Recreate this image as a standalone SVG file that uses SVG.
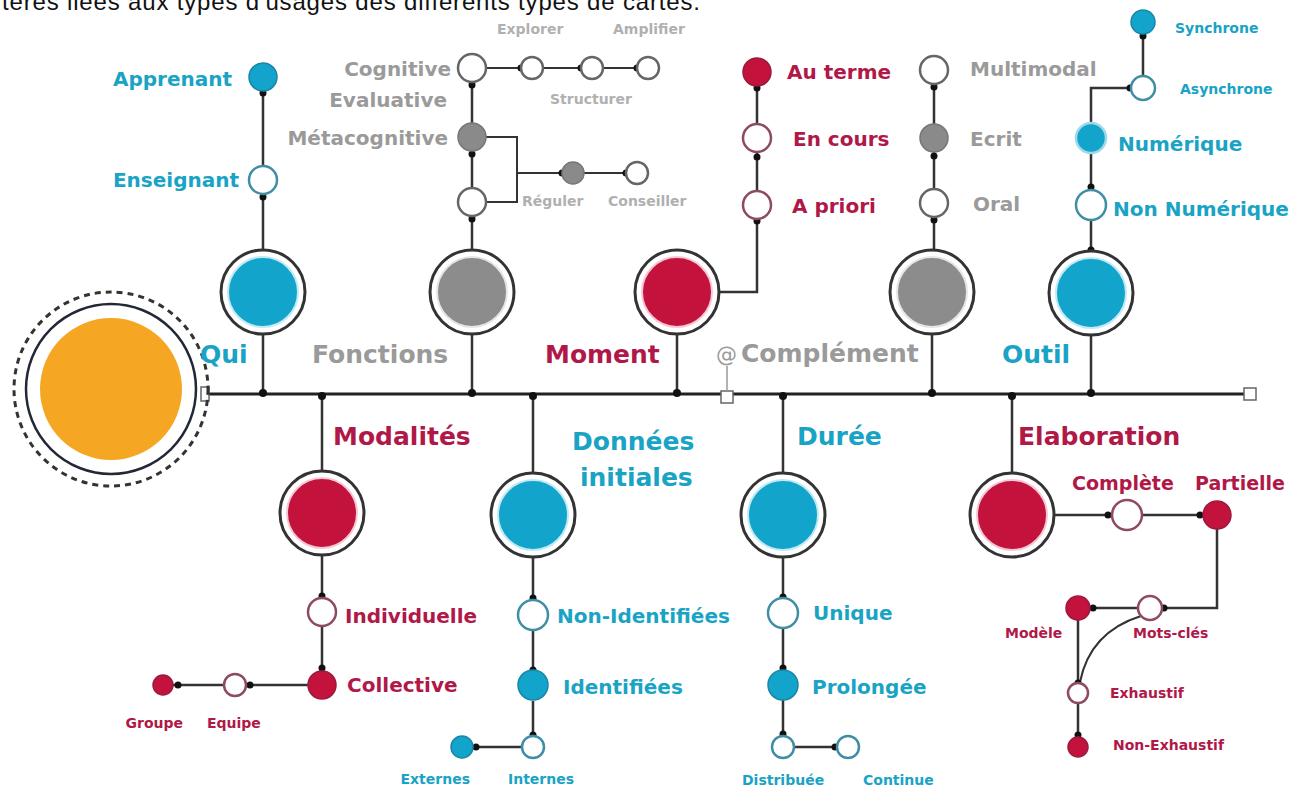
<svg xmlns="http://www.w3.org/2000/svg" width="1299" height="788" viewBox="0 0 1299 788">
  <style>
    .cap { font-family: "Liberation Sans", Arial, sans-serif; font-size: 24px; fill: #111; }
    .t { font-family: "DejaVu Sans", Verdana, sans-serif; font-weight: bold; }
    .h { font-size: 25px; }
    .m { font-size: 20px; }
    .s { font-size: 14px; }
    .cc { fill: #19a3c4; }
    .cr { fill: #b01848; }
    .cg { fill: #9a9a9a; }
    .cgl { fill: #b0b0b0; }
    .ring { fill: #fff; stroke: #333; stroke-width: 3; }
    .inC { fill: #12a4cb; stroke: #bfeaf6; stroke-width: 2; }
    .inR { fill: #c3133d; stroke: #f5c9d4; stroke-width: 2; }
    .inG { fill: #8c8c8c; stroke: #e6e6e6; stroke-width: 2; }
    .nC { fill: #12a4cb; stroke: #1a86a6; stroke-width: 1.5; }
    .nR { fill: #c3133d; stroke: #9b1a3e; stroke-width: 1.5; }
    .nG { fill: #8a8a8a; stroke: #777; stroke-width: 1.5; }
    .wC { fill: #fff; stroke: #3f8ea4; stroke-width: 2.5; }
    .wR { fill: #fff; stroke: #8e4a62; stroke-width: 2.5; }
    .wG { fill: #fff; stroke: #666; stroke-width: 2.5; }
    .ax { stroke: #222; stroke-width: 3; fill: none; }
    .ln { stroke: #333; stroke-width: 2.5; fill: none; }
    .ln2 { stroke: #333; stroke-width: 2; fill: none; }
    .dot { fill: #111; }
    .sq { fill: #fff; stroke: #666; stroke-width: 1.5; }
  </style>

  <!-- caption line, cut at the top edge -->
  <text class="cap" x="2" y="10" textLength="698">tères liées aux types d'usages des différents types de cartes.</text>

  <!-- connectors -->
  <g id="connectors">
    <path class="ax" d="M205,394 H1244"/>
    <rect class="sq" x="1244" y="388" width="12" height="12"/>
    <rect class="sq" x="721" y="391" width="12" height="12"/>
    <rect class="sq" x="201" y="387" width="8" height="14"/>
    <path d="M727,366 V391" stroke="#999" stroke-width="1.5"/>

    <!-- Qui -->
    <path class="ln" d="M263,91 V166 M263,194 V250 M263,334 V394"/>
    <circle class="dot" cx="263" cy="93" r="3.5"/>
    <circle class="dot" cx="263" cy="197" r="3.5"/>
    <circle class="dot" cx="263" cy="393" r="4"/>

    <!-- Fonctions -->
    <path class="ln" d="M472,82 V123 M472,151 V188 M472,216 V250 M472,334 V394"/>
    <circle class="dot" cx="472" cy="85" r="3.5"/>
    <circle class="dot" cx="472" cy="154" r="3.5"/>
    <circle class="dot" cx="472" cy="219" r="3.5"/>
    <circle class="dot" cx="472" cy="393" r="4"/>
    <path class="ln2" d="M486,68 H521 M543,68 H581 M603,68 H637"/>
    <circle class="dot" cx="521" cy="68" r="3.5"/>
    <circle class="dot" cx="581" cy="68" r="3.5"/>
    <circle class="dot" cx="637" cy="68" r="3.5"/>
    <path class="ln2" d="M486,137 H517 V202 H486 M517,173 H562 M584,173 H626"/>
    <circle class="dot" cx="562" cy="173" r="3.5"/>
    <circle class="dot" cx="626" cy="173" r="3.5"/>

    <!-- Moment -->
    <path class="ln" d="M757,86 V124 M757,152 V191 M757,219 V292 H719 M677,334 V394"/>
    <circle class="dot" cx="757" cy="88" r="3.5"/>
    <circle class="dot" cx="757" cy="157" r="3.5"/>
    <circle class="dot" cx="757" cy="221" r="3.5"/>
    <circle class="dot" cx="677" cy="393" r="4"/>

    <!-- Complément -->
    <path class="ln" d="M934,84 V124 M934,152 V189 M934,217 V250 M932,334 V394"/>
    <circle class="dot" cx="934" cy="87" r="3.5"/>
    <circle class="dot" cx="934" cy="156" r="3.5"/>
    <circle class="dot" cx="934" cy="220" r="3.5"/>
    <circle class="dot" cx="932" cy="393" r="4"/>

    <!-- Outil -->
    <path class="ln" d="M1143,34 V76 M1131,88 H1091 V123 M1091,153 V190 M1091,220 V250 M1091,335 V394"/>
    <circle class="dot" cx="1143" cy="36" r="3.5"/>
    <circle class="dot" cx="1130" cy="88" r="3.5"/>
    <circle class="dot" cx="1091" cy="187" r="3.5"/>
    <circle class="dot" cx="1091" cy="250" r="3.5"/>
    <circle class="dot" cx="1091" cy="393" r="4"/>

    <!-- Modalités -->
    <path class="ln" d="M322,394 V471 M322,555 V598 M322,626 V671 M308,685 H246 M224,685 H173"/>
    <circle class="dot" cx="322" cy="396" r="4"/>
    <circle class="dot" cx="322" cy="596" r="3.5"/>
    <circle class="dot" cx="322" cy="668" r="3.5"/>
    <circle class="dot" cx="250" cy="685" r="3.5"/>
    <circle class="dot" cx="178" cy="685" r="3.5"/>

    <!-- Données initiales -->
    <path class="ln" d="M533,394 V473 M533,557 V599 M533,631 V669 M533,701 V736 M522,747 H473"/>
    <circle class="dot" cx="533" cy="396" r="4"/>
    <circle class="dot" cx="533" cy="598" r="3.5"/>
    <circle class="dot" cx="533" cy="670" r="3.5"/>
    <circle class="dot" cx="533" cy="735" r="3.5"/>
    <circle class="dot" cx="476" cy="747" r="3.5"/>

    <!-- Durée -->
    <path class="ln" d="M783,394 V473 M783,557 V598 M783,628 V670 M783,700 V736 M794,747 H837"/>
    <circle class="dot" cx="783" cy="396" r="4"/>
    <circle class="dot" cx="783" cy="597" r="3.5"/>
    <circle class="dot" cx="783" cy="668" r="3.5"/>
    <circle class="dot" cx="783" cy="734" r="3.5"/>
    <circle class="dot" cx="835" cy="747" r="3.5"/>

    <!-- Elaboration -->
    <path class="ln" d="M1012,394 V473 M1054,515 H1112 M1142,515 H1203 M1217,529 V608 H1162 M1138,608 H1090 M1078,620 V683 M1078,703 V737"/>
    <path class="ln2" d="M1141,616 Q1090,632 1080,682"/>
    <circle class="dot" cx="1012" cy="396" r="4"/>
    <circle class="dot" cx="1108" cy="515" r="3.5"/>
    <circle class="dot" cx="1200" cy="515" r="3.5"/>
    <circle class="dot" cx="1164" cy="608" r="3.5"/>
    <circle class="dot" cx="1093" cy="608" r="3.5"/>
    <circle class="dot" cx="1078" cy="683" r="3.5"/>
    <circle class="dot" cx="1078" cy="735" r="3.5"/>
  </g>

  <!-- central node -->
  <g id="centre">
    <circle cx="111" cy="389" r="97" fill="none" stroke="#333" stroke-width="3" stroke-dasharray="6 5"/>
    <circle cx="111" cy="389" r="85" fill="#fff" stroke="#232838" stroke-width="2.5"/>
    <circle cx="111" cy="389" r="71" fill="#f5a623"/>
  </g>

  <!-- Qui -->
  <g id="qui">
    <circle class="ring" cx="263" cy="292" r="42"/>
    <circle class="inC" cx="263" cy="292" r="35"/>
    <text class="t h cc" x="200" y="363">Qui</text>
  </g>
  <g id="apprenant">
    <circle class="nC" cx="263" cy="77" r="14"/>
    <text class="t m cc" x="232" y="86" text-anchor="end">Apprenant</text>
  </g>
  <g id="enseignant">
    <circle class="wC" cx="263" cy="180" r="14"/>
    <text class="t m cc" x="239" y="187" text-anchor="end">Enseignant</text>
  </g>

  <!-- Fonctions -->
  <g id="fonctions">
    <circle class="ring" cx="472" cy="292" r="42"/>
    <circle class="inG" cx="472" cy="292" r="35"/>
    <text class="t h cg" x="312" y="363">Fonctions</text>
  </g>
  <g id="cognitive">
    <circle class="wG" cx="472" cy="68" r="14"/>
    <text class="t m cg" x="451" y="76" text-anchor="end">Cognitive</text>
  </g>
  <g id="evaluative">
    <text class="t m cg" x="447" y="107" text-anchor="end">Evaluative</text>
  </g>
  <g id="metacognitive">
    <circle class="nG" cx="472" cy="137" r="14"/>
    <text class="t m cg" x="448" y="145" text-anchor="end">Métacognitive</text>
  </g>
  <g id="fonction-3">
    <circle class="wG" cx="472" cy="202" r="14"/>
  </g>
  <g id="explorer">
    <circle class="wG" cx="532" cy="68" r="11"/>
    <text class="t s cgl" x="497" y="34">Explorer</text>
  </g>
  <g id="structurer">
    <circle class="wG" cx="592" cy="68" r="11"/>
    <text class="t s cgl" x="550" y="104">Structurer</text>
  </g>
  <g id="amplifier">
    <circle class="wG" cx="648" cy="68" r="11"/>
    <text class="t s cgl" x="613" y="34">Amplifier</text>
  </g>
  <g id="reguler">
    <circle class="nG" cx="573" cy="173" r="11"/>
    <text class="t s cgl" x="522" y="206">Réguler</text>
  </g>
  <g id="conseiller">
    <circle class="wG" cx="637" cy="173" r="11"/>
    <text class="t s cgl" x="608" y="206">Conseiller</text>
  </g>

  <!-- Moment -->
  <g id="moment">
    <circle class="ring" cx="677" cy="292" r="42"/>
    <circle class="inR" cx="677" cy="292" r="35"/>
    <text class="t h cr" x="545" y="363">Moment</text>
  </g>
  <g id="au-terme">
    <circle class="nR" cx="757" cy="72" r="14"/>
    <text class="t m cr" x="787" y="79">Au terme</text>
  </g>
  <g id="en-cours">
    <circle class="wR" cx="757" cy="138" r="14"/>
    <text class="t m cr" x="793" y="146">En cours</text>
  </g>
  <g id="a-priori">
    <circle class="wR" cx="757" cy="205" r="14"/>
    <text class="t m cr" x="792" y="213">A priori</text>
  </g>

  <!-- Complément -->
  <g id="complement">
    <circle class="ring" cx="932" cy="292" r="42"/>
    <circle class="inG" cx="932" cy="292" r="35"/>
    <text class="t h cg" y="362"><tspan x="716" font-size="21" font-weight="normal">@</tspan><tspan x="741">Complément</tspan></text>
  </g>
  <g id="multimodal">
    <circle class="wG" cx="934" cy="70" r="14"/>
    <text class="t m cg" x="970" y="76">Multimodal</text>
  </g>
  <g id="ecrit">
    <circle class="nG" cx="934" cy="138" r="14"/>
    <text class="t m cg" x="970" y="146">Ecrit</text>
  </g>
  <g id="oral">
    <circle class="wG" cx="934" cy="203" r="14"/>
    <text class="t m cg" x="973" y="211">Oral</text>
  </g>

  <!-- Outil -->
  <g id="outil">
    <circle class="ring" cx="1091" cy="293" r="42"/>
    <circle class="inC" cx="1091" cy="293" r="35"/>
    <text class="t h cc" x="1002" y="363">Outil</text>
  </g>
  <g id="synchrone">
    <circle class="nC" cx="1143" cy="22" r="12"/>
    <text class="t s cc" x="1175" y="33">Synchrone</text>
  </g>
  <g id="asynchrone">
    <circle class="wC" cx="1143" cy="88" r="12"/>
    <text class="t s cc" x="1180" y="94">Asynchrone</text>
  </g>
  <g id="numerique">
    <circle cx="1091" cy="138" r="15" fill="#12a4cb" stroke="#9fd9ea" stroke-width="2.5"/>
    <text class="t m cc" x="1118" y="151">Numérique</text>
  </g>
  <g id="non-numerique">
    <circle class="wC" cx="1091" cy="205" r="15"/>
    <text class="t m cc" x="1113" y="216">Non Numérique</text>
  </g>

  <!-- Modalités -->
  <g id="modalites">
    <circle class="ring" cx="322" cy="513" r="42"/>
    <circle class="inR" cx="322" cy="513" r="35"/>
    <text class="t h cr" x="333" y="445">Modalités</text>
  </g>
  <g id="individuelle">
    <circle class="wR" cx="322" cy="612" r="14"/>
    <text class="t m cr" x="345" y="623">Individuelle</text>
  </g>
  <g id="collective">
    <circle class="nR" cx="322" cy="685" r="14"/>
    <text class="t m cr" x="347" y="692">Collective</text>
  </g>
  <g id="equipe">
    <circle class="wR" cx="235" cy="685" r="11"/>
    <text class="t s cr" x="207" y="728">Equipe</text>
  </g>
  <g id="groupe">
    <circle class="nR" cx="163" cy="685" r="10"/>
    <text class="t s cr" x="183" y="728" text-anchor="end">Groupe</text>
  </g>

  <!-- Données initiales -->
  <g id="donnees">
    <circle class="ring" cx="533" cy="515" r="42"/>
    <circle class="inC" cx="533" cy="515" r="35"/>
    <text class="t h cc" x="572" y="450">Données</text>
    <text class="t h cc" x="580" y="486">initiales</text>
  </g>
  <g id="non-identifiees">
    <circle class="wC" cx="533" cy="615" r="15"/>
    <text class="t m cc" x="557" y="623">Non-Identifiées</text>
  </g>
  <g id="identifiees">
    <circle class="nC" cx="533" cy="685" r="15"/>
    <text class="t m cc" x="563" y="694">Identifiées</text>
  </g>
  <g id="internes">
    <circle class="wC" cx="533" cy="747" r="11"/>
    <text class="t s cc" x="508" y="784">Internes</text>
  </g>
  <g id="externes">
    <circle class="nC" cx="462" cy="747" r="11"/>
    <text class="t s cc" x="470" y="784" text-anchor="end">Externes</text>
  </g>

  <!-- Durée -->
  <g id="duree">
    <circle class="ring" cx="783" cy="515" r="42"/>
    <circle class="inC" cx="783" cy="515" r="35"/>
    <text class="t h cc" x="797" y="445">Durée</text>
  </g>
  <g id="unique">
    <circle class="wC" cx="783" cy="613" r="15"/>
    <text class="t m cc" x="813" y="620">Unique</text>
  </g>
  <g id="prolongee">
    <circle class="nC" cx="783" cy="685" r="15"/>
    <text class="t m cc" x="812" y="694">Prolongée</text>
  </g>
  <g id="distribuee">
    <circle class="wC" cx="783" cy="747" r="11"/>
    <text class="t s cc" x="742" y="785">Distribuée</text>
  </g>
  <g id="continue">
    <circle class="wC" cx="848" cy="747" r="11"/>
    <text class="t s cc" x="863" y="785">Continue</text>
  </g>

  <!-- Elaboration -->
  <g id="elaboration">
    <circle class="ring" cx="1012" cy="515" r="42"/>
    <circle class="inR" cx="1012" cy="515" r="35"/>
    <text class="t h cr" x="1018" y="445">Elaboration</text>
  </g>
  <g id="complete">
    <circle class="wR" cx="1127" cy="515" r="15"/>
    <text class="t cr" font-size="19" x="1072" y="490">Complète</text>
  </g>
  <g id="partielle">
    <circle class="nR" cx="1217" cy="515" r="14"/>
    <text class="t cr" font-size="19" x="1195" y="490">Partielle</text>
  </g>
  <g id="mots-cles">
    <circle class="wR" cx="1150" cy="608" r="12"/>
    <text class="t s cr" x="1133" y="638">Mots-clés</text>
  </g>
  <g id="modele">
    <circle class="nR" cx="1078" cy="608" r="12"/>
    <text class="t s cr" x="1005" y="638">Modèle</text>
  </g>
  <g id="exhaustif">
    <circle class="wR" cx="1078" cy="693" r="10"/>
    <text class="t s cr" x="1110" y="698">Exhaustif</text>
  </g>
  <g id="non-exhaustif">
    <circle class="nR" cx="1078" cy="747" r="10"/>
    <text class="t s cr" x="1113" y="750">Non-Exhaustif</text>
  </g>
</svg>
